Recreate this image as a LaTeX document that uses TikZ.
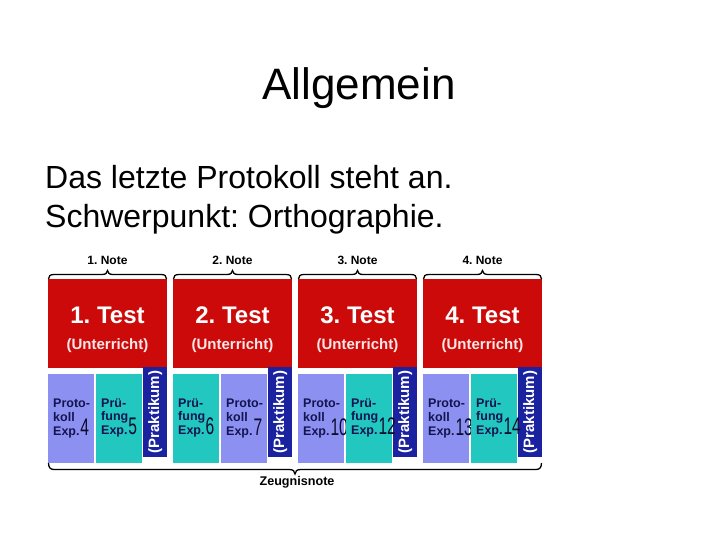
\documentclass[tikz,border=0pt]{standalone}
\usepackage{fontspec}
\setmainfont{Liberation Sans}
\frenchspacing
\definecolor{tred}{HTML}{CC0A0A}
\definecolor{peri}{HTML}{8C90F0}
\definecolor{tealbox}{HTML}{22C8C0}
\definecolor{dblue}{HTML}{1A22A0}
\definecolor{navy}{HTML}{141450}
\begin{document}
\begin{tikzpicture}[x=1pt,y=-1pt,
  redbox/.style={fill=tred,draw=none,minimum width=119pt,minimum height=89pt,inner sep=0pt,anchor=north west},
  lbox/.style={draw=none,minimum width=45.5pt,minimum height=89pt,inner sep=0pt,anchor=north west},
  pbox/.style={fill=dblue,draw=none,minimum width=24pt,minimum height=90pt,inner sep=0pt,anchor=north west},
  bracestyle/.style={draw=black,line width=1.3pt},
  smalltxt/.style={font=\bfseries\fontsize{12.5}{14}\selectfont,text=navy,inner sep=0pt,anchor=base west},
  numtxt/.style={font=\fontsize{24}{24}\selectfont,text=navy!60!black,inner sep=0pt,anchor=base west}
]
\useasboundingbox (0,0) rectangle (720,540);

\node[anchor=base,font=\fontsize{44}{50}\selectfont,inner sep=0pt] (title) at (359,100) {Allgemein};
\node[anchor=base west,font=\fontsize{32}{38}\selectfont,inner sep=0pt] (l1) at (45,189) {Das letzte Protokoll steht an.};
\node[anchor=base west,font=\fontsize{32}{38}\selectfont,inner sep=0pt] (l2) at (45,228) {Schwerpunkt: Orthographie.};

\foreach \i/\x in {1/48,2/173,3/298,4/423} {
  \node[redbox] (t\i) at (\x,279) {};
  \node[font=\bfseries\fontsize{24}{28}\selectfont,text=white,anchor=base,inner sep=0pt] (tt\i) at (\x+59.5,323) {\i. Test};
  \node[font=\bfseries\fontsize{15}{18}\selectfont,text=white!90!tred,inner sep=0pt] (tu\i) at (\x+59.5,346) {(Unterricht)};
  \node[font=\bfseries\fontsize{12}{14}\selectfont,inner sep=0pt] (n\i) at (\x+59.5,260) {\i. Note};
  \draw[bracestyle] (\x+0.5,279) .. controls (\x+0.5,276) and (\x+2,274.5) .. (\x+6,274.5) -- (\x+54,274.5)
     .. controls (\x+57.5,274.5) and (\x+59.5,273) .. (\x+59.5,270.5)
     .. controls (\x+59.5,273) and (\x+61.5,274.5) .. (\x+65,274.5) -- (\x+113,274.5)
     .. controls (\x+117,274.5) and (\x+118.5,276) .. (\x+118.5,279);
  \node[pbox] (p\i) at (\x+95,367) {};
  \node[font=\bfseries\fontsize{15}{18}\selectfont,text=white,rotate=90,inner sep=0pt] (pt\i) at (p\i.center) {(Praktikum)};
}

\foreach \x/\n in {48/4,221/7,298/10,423/13} {
  \node[lbox,fill=peri] (b\n) at (\x,374) {};
  \node[smalltxt] (ba\n) at (\x+5,407) {Proto-};
  \node[smalltxt] (bb\n) at (\x+5,421) {koll};
  \node[smalltxt] (bc\n) at (\x+5,435) {Exp.};
  \node[numtxt] (bd\n) at ([xshift=0.5pt]bc\n.base east) {\scalebox{0.65}[1]{\n}};
}
\foreach \x/\n in {96/5,173/6,346/12,471/14} {
  \node[lbox,fill=tealbox] (b\n) at (\x,374) {};
  \node[smalltxt] (ba\n) at (\x+5,407) {Prü-};
  \node[smalltxt] (bb\n) at (\x+5,420) {fung};
  \node[smalltxt] (bc\n) at (\x+5,434) {Exp.};
  \node[numtxt] (bd\n) at ([xshift=0.5pt]bc\n.base east) {\scalebox{0.65}[1]{\n}};
}

\draw[bracestyle] (48.5,463) .. controls (48.5,467) and (50,469.5) .. (54,469.5) -- (289,469.5)
   .. controls (293,469.5) and (295,471) .. (295,474)
   .. controls (295,471) and (297,469.5) .. (301,469.5) -- (536,469.5)
   .. controls (540,469.5) and (541.5,467) .. (541.5,463);
\node[font=\bfseries\fontsize{12.6}{15}\selectfont,inner sep=0pt] (z) at (297,482) {Zeugnisnote};
\end{tikzpicture}
\end{document}
